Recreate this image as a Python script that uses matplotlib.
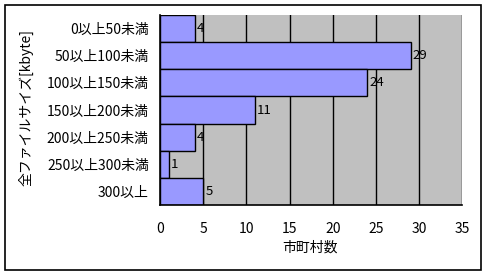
import matplotlib
matplotlib.use("Agg")
import matplotlib.pyplot as plt
from matplotlib.patches import Rectangle

plt.rcParams['font.family'] = ['Noto Sans CJK JP', 'DejaVu Sans']

categories = ["0以上50未満", "50以上100未満", "100以上150未満", "150以上200未満",
              "200以上250未満", "250以上300未満", "300以上"]
values = [4, 29, 24, 11, 4, 1, 5]
xticks = [0, 5, 10, 15, 20, 25, 30, 35]

W, H = 489, 277
FS = 10
fig = plt.figure(figsize=(W/100, H/100), dpi=100)
fig.patch.set_facecolor("white")
fig.patches.append(Rectangle((5/W, 1 - 270/H), (481-5)/W, (270-5)/H,
                             transform=fig.transFigure, fill=False,
                             edgecolor="black", linewidth=1.2))

ax = fig.add_axes([160/W, 1 - 205/H, (462.5-160)/W, (205-15)/H])
ax.set_facecolor("#C0C0C0")
ypos = list(range(len(categories)))
ax.barh(ypos, values, height=1.0, color="#9999FF", edgecolor="black",
        linewidth=1.0, zorder=3)
for y, v in zip(ypos, values):
    ax.text(v + 0.25, y, str(v), va="center", ha="left", fontsize=9.5, zorder=4)
ax.set_xlim(0, 35)
ax.set_ylim(len(categories) - 0.5, -0.5)
ax.set_xticks(xticks)
ax.set_xticklabels([str(t) for t in xticks], fontsize=FS)
ax.set_yticks(ypos)
ax.set_yticklabels(categories, fontsize=FS)
ax.tick_params(length=0, pad=8)
ax.tick_params(axis="x", pad=12)
ax.xaxis.grid(True, color="black", linewidth=1.0, zorder=1)
ax.set_axisbelow(True)
for s in ["top", "right"]:
    ax.spines[s].set_visible(False)
for s in ["left", "bottom"]:
    ax.spines[s].set_linewidth(1.2)
    ax.spines[s].set_zorder(5)
ax.set_xlabel("市町村数", fontsize=FS)
ax.xaxis.label.set_va("center")
ax.xaxis.set_label_coords(0.4975, -0.226)
ax.set_ylabel("全ファイルサイズ[kbyte]", fontsize=FS)
ax.yaxis.label.set_va("center")
ax.yaxis.set_label_coords(-0.443, 0.513)

fig.savefig("out.png", dpi=100)
